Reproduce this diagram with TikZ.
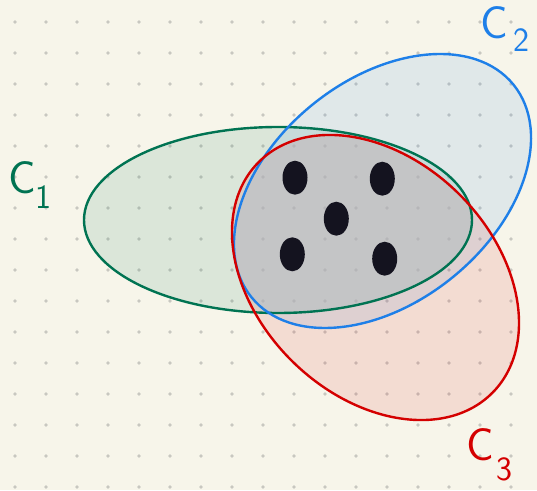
\documentclass[tikz,border=0pt]{standalone}
\usetikzlibrary{calc}
\definecolor{bgc}{RGB}{247,245,234}
\definecolor{gridc}{RGB}{200,199,192}
\definecolor{cgreen}{RGB}{0,115,82}
\definecolor{cblue}{RGB}{30,127,232}
\definecolor{cred}{RGB}{212,0,0}
\definecolor{dotc}{RGB}{20,19,31}
\definecolor{coreg}{RGB}{194,198,201}
\begin{document}
\begin{tikzpicture}[x=1pt,y=1pt,
  gridpt/.style={fill=gridc},
  setline/.style={line width=2.4pt},
  element/.style={fill=dotc},
  lbl/.style={inner sep=0pt,font=\fontsize{46}{46}\selectfont\sffamily},
  sublbl/.style={inner sep=0pt,font=\fontsize{34}{34}\selectfont\sffamily}]
\useasboundingbox (0,0) rectangle (537,490);
\fill[bgc] (0,0) rectangle (537,490);
% dot grid
\foreach \i in {0,...,16}{
  \foreach \j in {0,...,15}{
    \fill[gridpt] ({15+31*\i},{468-31*\j}) circle (1.8);
  }
}
% coordinates of set centres
\coordinate (g) at (278,270);
\coordinate (b) at (382.5,299);
\coordinate (r) at (375.5,212.5);
% fills
\fill[cgreen,fill opacity=0.11] (g) ellipse [x radius=194, y radius=93];
\fill[cblue,fill opacity=0.10] (b) ellipse [x radius=168.7, y radius=111.2, rotate=39.1];
\fill[cred,fill opacity=0.10] (r) ellipse [x radius=164.2, y radius=118.1, rotate=-44.4];
% triple intersection
\begin{scope}
  \clip (g) ellipse [x radius=194, y radius=93];
  \clip (b) ellipse [x radius=168.7, y radius=111.2, rotate=39.1];
  \fill[coreg,fill opacity=0.55] (r) ellipse [x radius=164.2, y radius=118.1, rotate=-44.4];
\end{scope}
% outlines
\draw[setline,cgreen] (g) ellipse [x radius=194, y radius=93];
\draw[setline,cblue] (b) ellipse [x radius=168.7, y radius=111.2, rotate=39.1];
\draw[setline,cred] (r) ellipse [x radius=164.2, y radius=118.1, rotate=-44.4];
% elements
\fill[element] (295,312.3) ellipse [x radius=12.5, y radius=17];
\fill[element] (382.3,311.3) ellipse [x radius=12.5, y radius=17];
\fill[element] (336.3,271.3) ellipse [x radius=12.5, y radius=17];
\fill[element] (292.3,235.7) ellipse [x radius=12.5, y radius=17];
\fill[element] (384.7,231.3) ellipse [x radius=12.5, y radius=17];
% labels
\node[lbl,text=cgreen] (c1) at (22,312) {C};
\node[sublbl,text=cgreen] (s1) at (43,293) {1};
\node[lbl,text=cblue] (c2) at (494,467) {C};
\node[sublbl,text=cblue] (s2) at (521,450) {2};
\node[lbl,text=cred] (c3) at (480,45) {C};
\node[sublbl,text=cred] (s3) at (504,21) {3};
\end{tikzpicture}
\end{document}
